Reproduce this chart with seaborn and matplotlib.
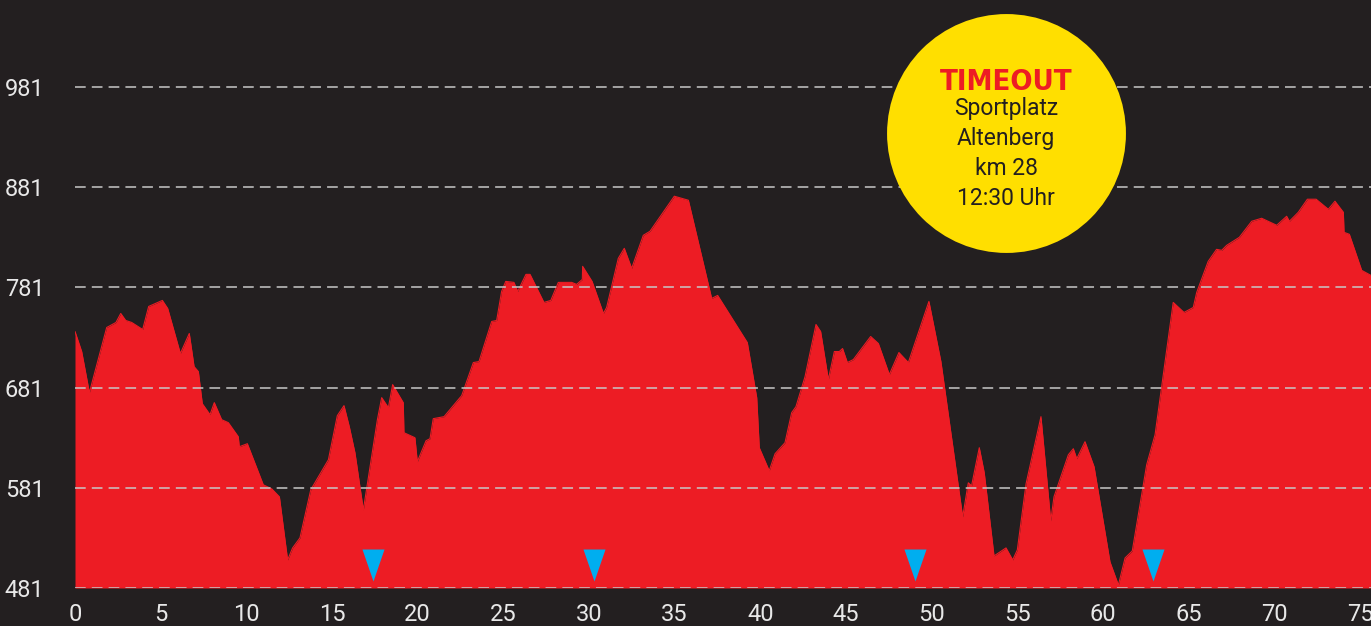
import matplotlib
matplotlib.use("Agg")
import matplotlib.pyplot as plt
import pandas as pd
import seaborn as sns

# elevation profile (km, metres)
km = [0.0, 0.39, 0.84, 1.85, 2.39, 2.67, 2.96, 3.31, 3.95, 4.30, 5.10, 5.41, 6.15, 6.67,
      6.95, 7.20, 7.43, 7.88, 8.13, 8.56, 8.95, 9.53, 9.59, 10.06, 10.99, 11.48, 11.93,
      12.41, 12.70, 13.13, 13.76, 14.79, 15.31, 15.70, 16.01, 16.34, 16.83, 17.65, 17.90,
      18.29, 18.54, 19.16, 19.20, 19.84, 19.98, 20.49, 20.72, 20.91, 21.54, 22.57, 23.25,
      23.58, 24.32, 24.61, 24.90, 25.14, 25.62, 25.84, 26.32, 26.56, 27.37, 27.77, 28.21,
      28.99, 29.28, 29.61, 29.63, 30.18, 30.84, 31.03, 31.71, 32.06, 32.49, 33.17, 33.56,
      34.98, 35.80, 37.16, 37.51, 39.24, 39.79, 39.94, 40.52, 40.86, 41.44, 41.83, 42.08,
      42.61, 43.25, 43.52, 43.97, 44.32, 44.61, 44.80, 45.08, 45.43, 46.44, 46.89, 47.53,
      48.09, 48.64, 49.84, 50.54, 51.81, 52.14, 52.33, 52.78, 53.07, 53.64, 54.34, 54.73,
      55.00, 55.51, 56.38, 56.95, 57.14, 57.98, 58.27, 58.47, 58.95, 59.48, 60.41, 60.90,
      61.29, 61.71, 62.55, 63.04, 64.10, 64.73, 65.27, 65.47, 66.14, 66.63, 66.93, 67.22,
      67.96, 68.68, 69.26, 70.14, 70.72, 70.88, 71.40, 71.93, 72.44, 73.15, 73.54, 74.03,
      74.07, 74.38, 75.10, 75.64]
elev = [737, 717, 676, 741, 746, 755, 748, 746, 739, 762, 768, 760, 715, 735,
        702, 697, 665, 654, 666, 649, 646, 632, 622, 625, 584, 580, 572,
        509, 521, 531, 579, 609, 653, 663, 642, 616, 559, 649, 671,
        661, 684, 666, 636, 631, 607, 628, 630, 650, 652, 673, 706,
        707, 747, 748, 777, 787, 786, 777, 794, 794, 766, 768, 786,
        786, 784, 789, 802, 787, 755, 761, 810, 820, 800, 833, 837,
        872, 868, 770, 773, 726, 671, 621, 598, 615, 626, 656, 662,
        692, 744, 737, 689, 717, 717, 720, 706, 709, 732, 725, 694,
        716, 706, 767, 707, 552, 586, 583, 621, 596, 513, 521, 509,
        519, 585, 652, 548, 572, 614, 620, 610, 627, 602, 507, 484,
        511, 518, 604, 634, 766, 756, 761, 776, 807, 819, 818, 823,
        831, 847, 850, 843, 852, 847, 856, 869, 869, 859, 867, 856,
        836, 834, 798, 793]

stop_km = [17.4, 30.3, 49.0, 62.9]
y_ticks = [481, 581, 681, 781, 881, 981]
x_ticks = list(range(0, 80, 5))

timeout_lines = ["Sportplatz", "Altenberg", "km 28", "12:30 Uhr"]

BG = "#231f20"
RED = "#ed1c24"
BLUE = "#00aeef"
YELLOW = "#ffdf00"

sns.set_style("dark")
plt.rcParams["font.family"] = ["Roboto", "DejaVu Sans"]

df = pd.DataFrame({"km": km, "elev": elev})

fig = plt.figure(figsize=(13.71, 6.26), dpi=100, facecolor=BG)
ax = fig.add_axes([75 / 1371, 38 / 626, 1 - 75 / 1371, 1 - 38 / 626])
ax.set_facecolor(BG)

y_min = 481
ax.fill_between(df["km"], df["elev"], y_min, color=RED, linewidth=0, zorder=1)
sns.lineplot(data=df, x="km", y="elev", color=RED, linewidth=0.8, ax=ax, zorder=1)

# grid lines above the profile
for yv in y_ticks:
    ax.axhline(yv, color="#c8c8c8", linewidth=1.1, dashes=(7, 4), zorder=2)

# stop markers
tri = [(-0.69, 1), (0.69, 1), (0, -1)]
ax.scatter(stop_km, [504] * len(stop_km), marker=tri, s=23 ** 2, color=BLUE,
           linewidths=0, zorder=3)

# timeout bubble
cx, cy = 54.34, 935
ax.scatter([cx], [cy], s=172 ** 2, color=YELLOW, linewidths=0, zorder=4, clip_on=False)
ax.text(cx, 978, "TIMEOUT", ha="center", va="baseline", color=RED, fontsize=21,
        fontweight="bold", fontstretch="condensed",
        family=["DejaVu Sans"], zorder=5)
for i, line in enumerate(timeout_lines):
    ax.text(cx, 953 - 30 * i, line, ha="center", va="baseline", color=BG,
            fontsize=16.5, zorder=5)

ax.set_xlim(0, (1371 - 75) / 17.133)
ax.set_ylim(y_min, y_min + 588 * 500 / 501)
ax.set_xticks(x_ticks)
ax.set_yticks(y_ticks)
ax.tick_params(axis="both", length=0, colors="#e8e8e8", labelsize=17)
ax.tick_params(axis="x", pad=11)
ax.tick_params(axis="y", pad=22)
ax.set_xlabel("")
ax.set_ylabel("")
ax.grid(False)
for s in ax.spines.values():
    s.set_visible(False)

fig.savefig("out.png", dpi=100, facecolor=BG)
